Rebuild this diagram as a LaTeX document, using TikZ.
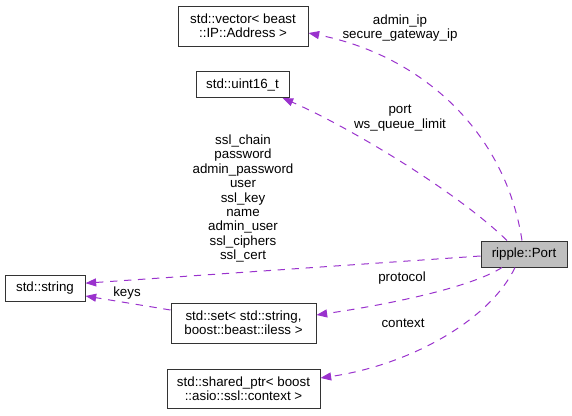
\documentclass[tikz,border=0pt]{standalone}
\usepackage{fontspec}
\setmainfont{Liberation Sans}
\usepackage{tikz}
\usetikzlibrary{arrows.meta}
\usetikzlibrary{positioning}
\definecolor{edge purple}{HTML}{9A32CD}
\definecolor{port gray}{HTML}{BFBFBF}
\tikzstyle{classbox}=[draw=black!80,line width=0.75pt,fill=white,rectangle,align=center,inner sep=0pt,minimum height=19.5pt,font=\fontsize{10}{10.5}\selectfont]
\tikzstyle{current}=[fill=port gray]
\begin{document}
\begin{tikzpicture}[
  x=0.75pt,y=-0.75pt,
  member/.style={edge purple,line width=0.75pt,dash pattern=on 5.5pt off 5pt,-{Triangle[length=8pt,width=6pt]}},
  member label/.style={align=center,inner sep=0pt,font=\fontsize{10}{10.8}\selectfont},
]
\useasboundingbox (0,0) rectangle (572,415);
  % classes
  \node[classbox,minimum width=97.5pt,minimum height=30pt] (vec) at (243,26) {std::vector< beast\\::IP::Address >};
  \node[classbox,minimum width=69.75pt] (uint) at (242.5,84.5) {std::uint16\_t};
  \node[classbox,current,minimum width=64.5pt] (port) at (524,254) {ripple::Port};
  \node[classbox,minimum width=60pt] (str) at (45,288.5) {std::string};
  \node[classbox,minimum width=108.75pt,minimum height=30pt] (set) at (243.5,323) {std::set< std::string,\\ boost::beast::iless >};
  \node[classbox,minimum width=114.75pt,minimum height=29.25pt] (shp) at (243.5,388.5) {std::shared\_ptr< boost\\::asio::ssl::context >};

  % members
  \draw[member] ([xshift=-1.5pt]port.north) .. controls (505,130) and (420,55) .. ([yshift=-5.25pt]vec.east);
  \draw[member] ([xshift=-12.75pt]port.north) .. controls (455,190) and (345,125) .. ([xshift=30pt]uint.south);
  \draw[member] ([yshift=-1.5pt]port.west) -- ([yshift=4pt]str.east);
  \draw[member] ([xshift=-16.5pt]port.south) .. controls (470,288) and (385,305) .. ([yshift=6pt]set.east);
  \draw[member] ([xshift=-6.75pt]port.south) .. controls (490,320) and (410,365) .. ([yshift=7.9pt]shp.east);
  \draw[member] ([yshift=9.75pt]set.west) -- ([yshift=-5.6pt]str.east);

  \node[member label] (l vec) at (400,28) {admin\_ip\\secure\_gateway\_ip};
  \node[member label] (l uint) at (400,118) {port\\ws\_queue\_limit};
  \node[member label] (l str) at (243,198.5) {ssl\_chain\\password\\admin\_password\\user\\ssl\_key\\name\\admin\_user\\ssl\_ciphers\\ssl\_cert};
  \node[member label] (l set) at (402,278) {protocol};
  \node[member label] (l keys) at (127,293) {keys};
  \node[member label] (l shp) at (403,323) {context};
\end{tikzpicture}
\end{document}
